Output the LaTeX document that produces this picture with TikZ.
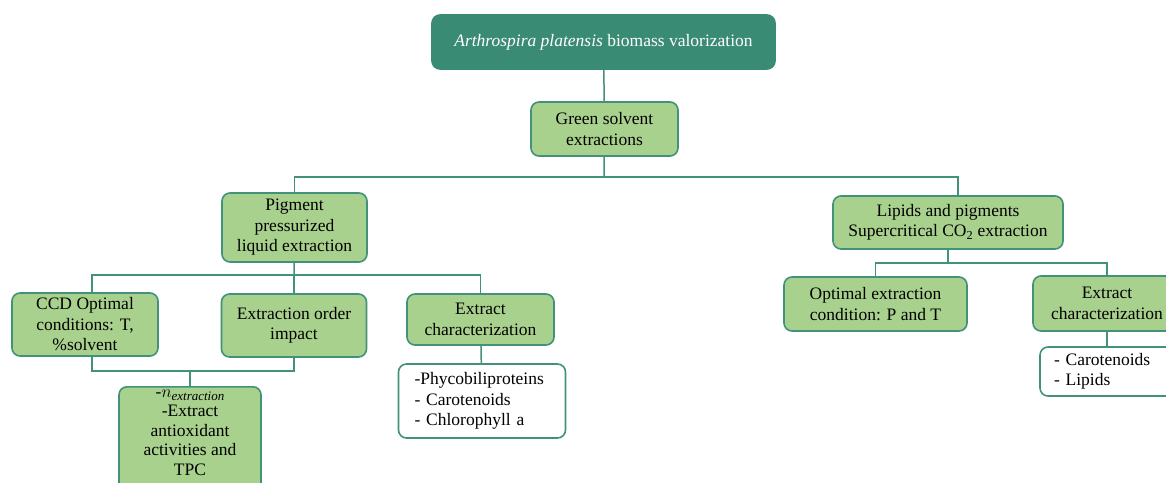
\documentclass[tikz,border=0pt]{standalone}
\usepackage{fontspec}
\setmainfont{Liberation Serif}
\usetikzlibrary{positioning}
\definecolor{darkteal}{HTML}{3A8B73}
\definecolor{edgeteal}{HTML}{42917A}
\definecolor{leafgreen}{HTML}{A9D18E}

\begin{document}
\begin{tikzpicture}[
    x=1pt, y=-1pt,
    font=\fontsize{17.5}{20.5}\selectfont,
    block/.style={draw=edgeteal, fill=leafgreen, line width=1.6pt, rounded corners=8pt, align=center, inner sep=2pt},
    mainblock/.style={draw=darkteal, fill=darkteal, text=white, line width=1.6pt, rounded corners=8pt, align=center},
    listbox/.style={draw=edgeteal, fill=white, line width=1.6pt, rounded corners=8pt, align=left},
    link/.style={draw=edgeteal, line width=1.5pt}
  ]
    \useasboundingbox (0,0) rectangle (1166,482);

    \node[mainblock, minimum width=343pt, minimum height=54pt] (biomass) at (603.5,42) {\textit{Arthrospira platensis} biomass valorization};
    \node[block, minimum width=147pt, minimum height=54pt] (green) at (604.5,129) {Green solvent\\extractions};

    % pressurized liquid branch
    \node[block, minimum width=145pt, minimum height=69pt] (plx) at (294.5,227.5) {Pigment\\pressurized\\liquid extraction};
    \node[block, minimum width=146pt, minimum height=63pt] (ccd) at (85,324.5) {CCD Optimal\\conditions: T,\\\%solvent};
    \node[block, minimum width=145pt, minimum height=63pt] (order) at (294,325.5) {Extraction order\\impact};
    \node[block, minimum width=147pt, minimum height=51pt] (charplx) at (480.5,319.5) {Extract\\characterization};
    \node[listbox, minimum height=74pt, text width=135pt, inner xsep=16pt] (listplx) at (482,401) {-Phycobiliproteins\\- Carotenoids\\- Chlorophyll a};
    \node[block, anchor=north, minimum width=142pt, inner ysep=3pt, font=\fontsize{17.5}{19.5}\selectfont] (nbox) at (190,386)
      {-$n$\raisebox{-3pt}{\fontsize{13}{13}\selectfont\textit{extraction}}\\-Extract\\antioxidant\\activities and\\TPC\\\mbox{}};

    % supercritical branch
    \node[block, minimum width=230pt, minimum height=53pt] (sfe) at (948,222.5) {Lipids and pigments\\Supercritical CO\textsubscript{2} extraction};
    \node[block, minimum width=183pt, minimum height=54pt] (optsfe) at (875.5,304) {Optimal extraction\\condition: P and T};
    \node[block, minimum width=148pt, minimum height=55pt] (charsfe) at (1107,303.5) {Extract\\characterization};
    \node[listbox, minimum height=49pt, text width=106pt, inner xsep=14pt] (listsfe) at (1107,371.5) {- Carotenoids\\- Lipids};

    \coordinate (split1) at (604,177);
    \coordinate (split2) at (294,275);
    \coordinate (merge) at (190,371);
    \coordinate (split3) at (948,263);

    \draw[link] (biomass) -- (green);
    \draw[link] (green) -- (split1);
    \draw[link] (plx.north) |- (split1) -| ([xshift=10pt]sfe.north);

    \draw[link] (plx) -- (split2);
    \draw[link] ([xshift=7pt]ccd.north) |- (split2) -| (charplx.north);
    \draw[link] (split2) -- (order.north);
    \draw[link] ([xshift=7pt]ccd.south) |- (merge) -| (order.south);
    \draw[link] (merge) -- (nbox.north);
    \draw[link] (charplx) -- (listplx);

    \draw[link] (sfe) -- (split3);
    \draw[link] (optsfe.north) |- (split3) -| (charsfe.north);
    \draw[link] (charsfe) -- (listsfe);
  \end{tikzpicture}
\end{document}
